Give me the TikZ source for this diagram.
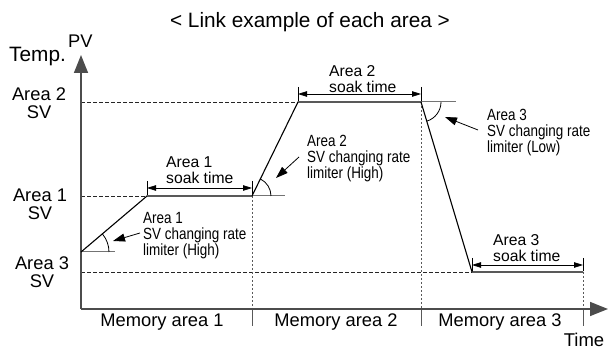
\documentclass[tikz,border=0pt]{standalone}
\usepackage{fontspec}
\setmainfont{Liberation Sans}
\newfontfamily\narrowfont[FakeStretch=0.83]{Liberation Sans}
\usetikzlibrary{arrows.meta}
\tikzset{
  axis/.style={draw=black!70,line width=1.5pt},
  profile/.style={draw=black,line width=1.1pt},
  refline/.style={draw=black!55,line width=1pt},
  hdash/.style={draw=black!85,line width=0.8pt,dash pattern=on 3.5pt off 2.5pt},
  vdash/.style={draw=black!65,line width=0.9pt,dash pattern=on 2pt off 2pt},
  tickline/.style={draw=black!65,line width=1pt},
  dimline/.style={draw=black,line width=0.8pt,{Triangle[length=9pt,width=5.5pt]}-{Triangle[length=9pt,width=5.5pt]}},
  pointer/.style={draw=black,line width=0.8pt,-{Triangle[length=12pt,width=8pt]}},
  anglearc/.style={draw=black,line width=0.8pt},
  biglabel/.style={inner sep=0pt,font=\fontsize{18.3}{18}\selectfont,align=center},
  soaklabel/.style={inner sep=0pt,font=\fontsize{15.7}{16}\selectfont,align=left,anchor=north west},
  limlabel/.style={inner sep=0pt,font=\fontsize{16.2}{16}\narrowfont,align=left,anchor=north west},
}
\begin{document}
\begin{tikzpicture}[x=1pt,y=-1pt]
\useasboundingbox (0,0) rectangle (608,352);
% key points
\coordinate (O) at (81,309);
\coordinate (ytip) at (81,55);
\coordinate (xtip) at (608,309);
\coordinate (p0) at (81,252);
\coordinate (p1) at (147,196);
\coordinate (p2) at (252,196);
\coordinate (p3) at (298,102);
\coordinate (p4) at (421,102);
\coordinate (p5) at (472,272);
\coordinate (p6) at (583,272);
\coordinate (y2) at (81,102);
\coordinate (y1) at (81,196);
\coordinate (y3) at (81,272);
\coordinate (b2) at (252,309);
\coordinate (b4) at (421,309);
\coordinate (b6) at (583,309);
\coordinate (c2) at (252,326);
\coordinate (c4) at (421,326);
\coordinate (c6) at (583,326);
% dashed guides
\draw[hdash] (y2) -- (p3);
\draw[hdash] (y1) -- (p1);
\draw[hdash] (y3) -- (p5);
\draw[vdash] (p2) -- (b2);
\draw[vdash] (p4) -- (b4);
\draw[vdash] (p6) -- (b6);
\draw[tickline] (b2) -- (c2);
\draw[tickline] (b4) -- (c4);
\draw[tickline] (b6) -- (c6);
% axes
\draw[axis,-{Triangle[length=18pt,width=14pt]}] (O) -- (ytip);
\draw[axis,-{Triangle[length=18pt,width=14pt]}] (O) -- (xtip);
% reference lines
\coordinate (r0) at (115,252);
\coordinate (r2) at (285,196);
\coordinate (r4) at (456,102);
\draw[refline] (p0) -- (r0);
\draw[refline] (p2) -- (r2);
\draw[refline] (p4) -- (r4);
% profile
\draw[profile] (p0) -- (p1) -- (p2) -- (p3) -- (p4) -- (p5) -- (p6);
% angle arcs
\draw[anglearc] (109,252) arc[start angle=0,end angle=-40.3,radius=28];
\draw[anglearc] (271,196) arc[start angle=0,end angle=-63.9,radius=19];
\draw[anglearc] (441,102) arc[start angle=0,end angle=73.6,radius=20];
% soak dimension arrows
\coordinate (s1a) at (147,188); \coordinate (s1b) at (252,188);
\coordinate (s2a) at (298,94);  \coordinate (s2b) at (421,94);
\coordinate (s3a) at (472,265); \coordinate (s3b) at (583,265);
\draw[dimline] (s1a) -- (s1b);
\draw[dimline] (s2a) -- (s2b);
\draw[dimline] (s3a) -- (s3b);
\draw[draw=black,line width=0.8pt] (147,181) -- (147,195) (252,181) -- (252,195);
\draw[draw=black,line width=0.8pt] (298,87) -- (298,101) (421,87) -- (421,101);
\draw[draw=black,line width=0.8pt] (472,258) -- (472,271) (583,258) -- (583,271);
% labels
\node[biglabel,anchor=north] (title) at (310,12) {\fontsize{20.8}{20}\selectfont < Link example of each area >};
\node[biglabel,anchor=north west] (temp) at (9,47) {\fontsize{20.8}{20}\selectfont Temp.};
\node[biglabel,anchor=north west] (pv) at (68,35) {PV};
\node[biglabel,anchor=north] (l2) at (39,88) {Area 2\\SV};
\node[biglabel,anchor=north] (l1) at (40,189) {Area 1\\SV};
\node[biglabel,anchor=north] (l3) at (42,257) {Area 3\\SV};
\node[biglabel,anchor=north] (m1) at (162,314) {Memory area 1};
\node[biglabel,anchor=north] (m2) at (336,314) {Memory area 2};
\node[biglabel,anchor=north] (m3) at (500,314) {Memory area 3};
\node[biglabel,anchor=north] (time) at (584,333) {\fontsize{18.5}{18}\selectfont Time};
\node[soaklabel] (st1) at (166,157) {Area 1\\soak time};
\node[soaklabel] (st2) at (329,65) {Area 2\\soak time};
\node[soaklabel] (st3) at (493,234) {Area 3\\soak time};
\node[limlabel] (lim1) at (143,212) {Area 1\\SV changing rate\\limiter (High)};
\node[limlabel] (lim2) at (307,135) {Area 2\\SV changing rate\\limiter (High)};
\node[limlabel] (lim3) at (487,109) {Area 3\\SV changing rate\\limiter (Low)};
% pointers
\draw[pointer] (140,233) -- (113,241);
\draw[pointer] (299,157) -- (276,178);
\draw[pointer] (478,130) -- (445,117);
\end{tikzpicture}
\end{document}
